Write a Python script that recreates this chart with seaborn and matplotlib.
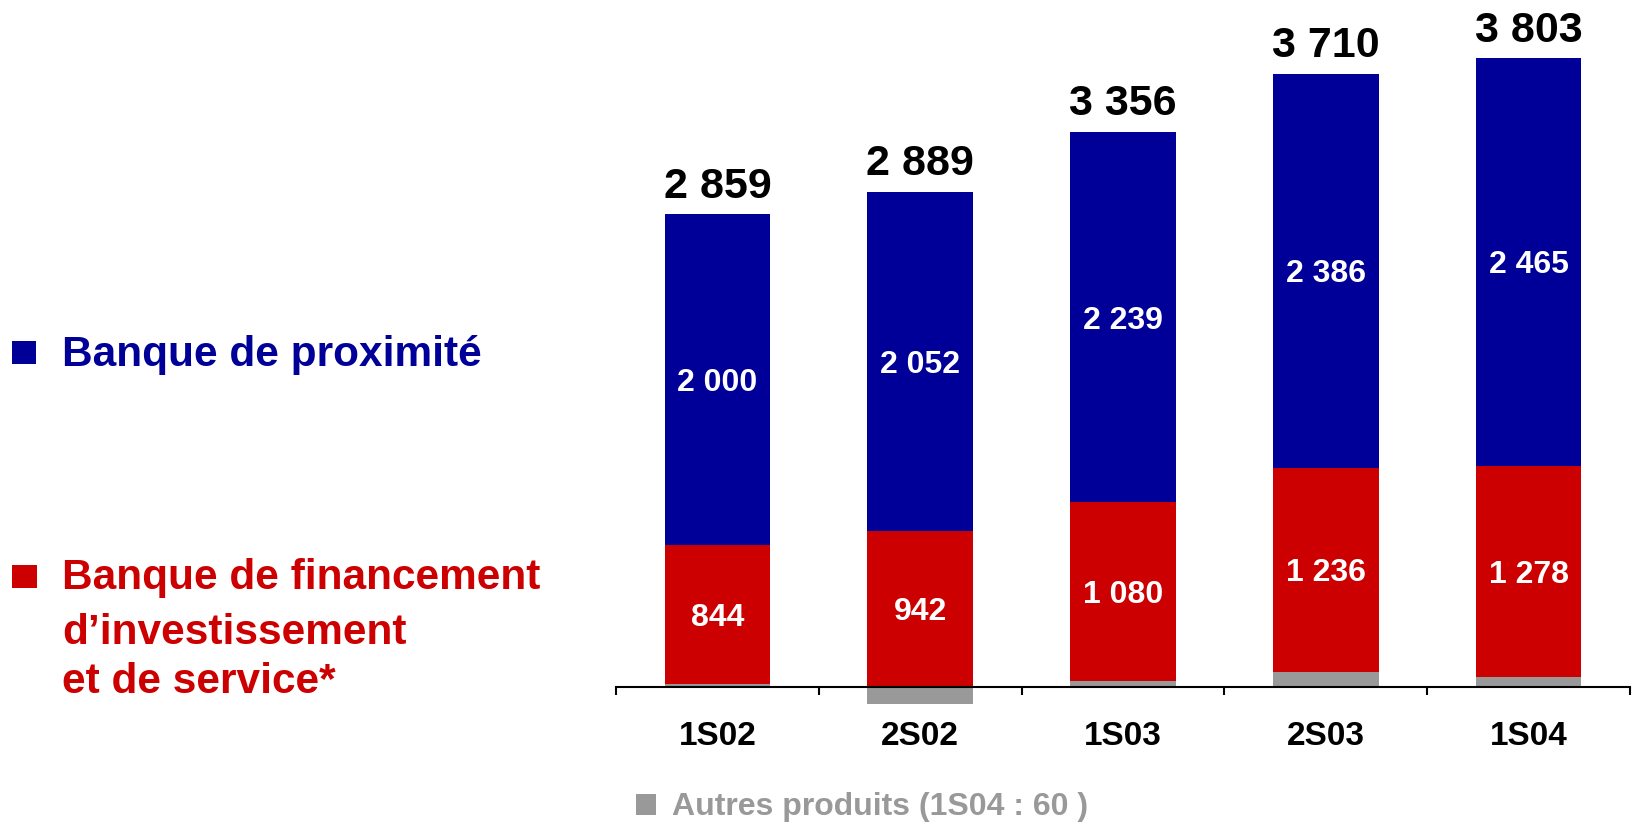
import numpy as np
import pandas as pd
import matplotlib
matplotlib.use("Agg")
import matplotlib.pyplot as plt
import seaborn as sns
from matplotlib.patches import Rectangle

# 数据
periodes = ['1S02', '2S02', '1S03', '2S03', '1S04']
proximite = [2000, 2052, 2239, 2386, 2465]
financement = [844, 942, 1080, 1236, 1278]
autres = [15, -105, 37, 88, 60]
totaux = [2859, 2889, 3356, 3710, 3803]

BLEU = '#000099'
ROUGE = '#CC0000'
GRIS = '#999999'

sns.set_style('white')
plt.rcParams['font.family'] = ['Liberation Sans', 'DejaVu Sans']
plt.rcParams['font.weight'] = 'bold'


def fmt(v):
    return f"{v:,}".replace(",", " ")


df = pd.DataFrame({
    'periode': periodes,
    'proximite': proximite,
    'financement': financement,
    'autres': autres,
    'total': totaux,
})
# 堆叠：灰色(正值)在底部，其上红色，再上蓝色；负值灰色在0以下
df['base'] = df['autres'].clip(lower=0)
df['haut_rouge'] = df['base'] + df['financement']
df['haut_bleu'] = df['haut_rouge'] + df['proximite']

fig = plt.figure(figsize=(16.34, 8.22), dpi=100)
ax = fig.add_axes([616 / 1634, 0.10426, 1014 / 1634, 0.8846])

bar_kw = dict(width=0.52, saturation=1, linewidth=0, ax=ax)
sns.barplot(data=df, x='periode', y='haut_bleu', color=BLEU, **bar_kw)
sns.barplot(data=df, x='periode', y='haut_rouge', color=ROUGE, **bar_kw)
sns.barplot(data=df, x='periode', y='autres', color=GRIS, **bar_kw)

ax.set_xlim(-0.5, 4.5)
ax.set_ylim(-300, 4100)
ax.set_xlabel('')
ax.set_ylabel('')
ax.set_yticks([])

for s in ['left', 'top', 'right']:
    ax.spines[s].set_visible(False)
ax.spines['bottom'].set_position(('data', 0))
ax.spines['bottom'].set_linewidth(1.5)
ax.spines['bottom'].set_color('black')

ax.set_xticks(range(len(periodes)))
ax.set_xticklabels(periodes, fontsize=24, fontweight='bold', color='black')
ax.set_xticks(np.arange(-0.5, len(periodes)), minor=True)
ax.tick_params(axis='x', which='major', bottom=False, length=0, pad=25, labelcolor='black')
ax.tick_params(axis='x', which='minor', bottom=True, length=6, width=1.5,
               color='black', direction='out')

# 标签
for i, row in df.iterrows():
    ax.annotate(fmt(row['proximite']), (i, row['haut_rouge'] + row['proximite'] / 2),
                xytext=(0, -8.2), textcoords='offset points', ha='center', va='baseline',
                color='white', fontsize=23, fontweight='bold')
    ax.annotate(fmt(row['financement']), (i, row['base'] + row['financement'] / 2),
                xytext=(0, -8.2), textcoords='offset points', ha='center', va='baseline',
                color='white', fontsize=23, fontweight='bold')
    ax.annotate(fmt(row['total']), (i, row['haut_bleu']), xytext=(0, 12),
                textcoords='offset points', ha='center', va='baseline',
                fontsize=31, fontweight='bold', color='black')

# 图例（左侧与底部）
W, H = 1634, 822


def carre(x0, y0, x1, y1, c):
    fig.patches.append(Rectangle((x0 / W, 1 - y1 / H), (x1 - x0) / W, (y1 - y0) / H,
                                 transform=fig.transFigure, color=c, lw=0))


carre(12, 341, 36, 364, BLEU)
fig.text(62 / W, 1 - 366 / H, 'Banque de proximité', color=BLEU, fontsize=30.5,
         fontweight='bold', va='baseline', ha='left')

carre(12, 565, 37, 588, ROUGE)
for txt, yb in [('Banque de financement', 589), ('d’investissement', 644),
                ('et de service*', 693)]:
    fig.text(62 / W, 1 - yb / H, txt, color=ROUGE, fontsize=30.5,
             fontweight='bold', va='baseline', ha='left')

carre(636, 794, 656, 815, GRIS)
fig.text(672 / W, 1 - 815 / H, 'Autres produits (1S04 : 60 )', color=GRIS, fontsize=23,
         fontweight='bold', va='baseline', ha='left')

fig.savefig('out.png', dpi=100)
